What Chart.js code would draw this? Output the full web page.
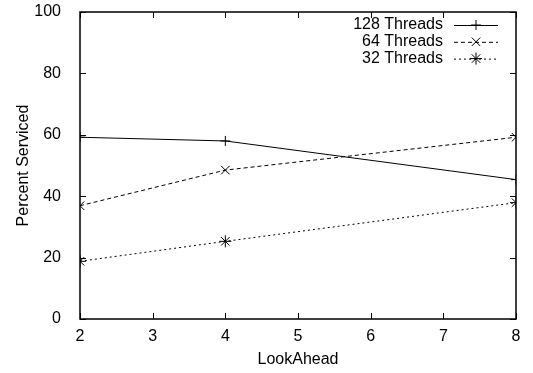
<!DOCTYPE html>
<html>
<head>
<meta charset="utf-8">
<script src="https://cdn.jsdelivr.net/npm/chart.js@4/dist/chart.umd.min.js"></script>
<style>
  html, body { margin: 0; padding: 0; background: #fff; }
  #wrap { width: 533px; height: 373px; }
</style>
</head>
<body>
<div id="wrap"><canvas id="myChart" width="533" height="373"></canvas></div>
<script>
const lookAhead = [2, 4, 8];
const threads128 = [59.2, 58, 45.4];
const threads64 = [36.9, 48.5, 59.2];
const threads32 = [18.8, 25.3, 37.9];
const seriesLabels = ['128 Threads', '64 Threads', '32 Threads'];
const xTicks = [2, 3, 4, 5, 6, 7, 8];
const yTicks = [0, 20, 40, 60, 80, 100];

const FONT = 'Liberation Sans, Arial, sans-serif';
const FS = 16;

function pts(ys) {
    return lookAhead.map((x, i) => ({x: x, y: ys[i]}));
}

// gnuplot-like frame: box around the plot with inward ticks on all sides
const frame = {
    id: 'frame',
    afterDraw(chart) {
        const ctx = chart.ctx;
        const a = chart.chartArea;
        const xs = chart.scales.x, ys = chart.scales.y;
        ctx.save();
        ctx.strokeStyle = '#000';
        ctx.lineWidth = 1.5;
        ctx.strokeRect(a.left, a.top, a.right - a.left, a.bottom - a.top);
        ctx.lineWidth = 1;
        ctx.beginPath();
        xTicks.forEach(v => {
            const px = Math.round(xs.getPixelForValue(v)) + 0.5;
            ctx.moveTo(px, a.bottom); ctx.lineTo(px, a.bottom - 6);
            ctx.moveTo(px, a.top); ctx.lineTo(px, a.top + 6);
        });
        yTicks.forEach(v => {
            const py = Math.round(ys.getPixelForValue(v)) + 0.5;
            ctx.moveTo(a.left, py); ctx.lineTo(a.left + 6, py);
            ctx.moveTo(a.right, py); ctx.lineTo(a.right - 6, py);
        });
        ctx.stroke();

        // key in the top right corner
        ctx.font = FS + 'px ' + FONT;
        ctx.textAlign = 'right';
        ctx.textBaseline = 'middle';
        chart.data.datasets.forEach((ds, i) => {
            const y = a.top + 13 + i * 16.8;
            ctx.fillStyle = '#000';
            ctx.fillText(ds.label, a.right - 73, y);
            const x0 = a.right - 62, x1 = a.right - 18;
            ctx.strokeStyle = '#000';
            ctx.lineWidth = 1;
            ctx.setLineDash(ds.borderDash || []);
            ctx.beginPath();
            ctx.moveTo(x0, y + 0.5); ctx.lineTo(x1, y + 0.5);
            ctx.stroke();
            ctx.setLineDash([]);
            Chart.helpers.drawPoint(ctx, {
                pointStyle: ds.pointStyle, radius: ds.pointRadius, borderWidth: 1
            }, (x0 + x1) / 2, y);
        });
        ctx.restore();
    }
};

const ctx = document.getElementById('myChart').getContext('2d');
const myChart = new Chart(ctx, {
    type: 'line',
    data: {
        datasets: [{
            label: seriesLabels[0],
            data: pts(threads128),
            borderColor: '#000',
            pointStyle: 'cross',
            pointRadius: 5
        }, {
            label: seriesLabels[1],
            data: pts(threads64),
            borderColor: '#000',
            borderDash: [4, 3],
            pointStyle: 'crossRot',
            pointRadius: 6
        }, {
            label: seriesLabels[2],
            data: pts(threads32),
            borderColor: '#000',
            borderDash: [2, 3],
            pointStyle: 'star',
            pointRadius: 6
        }]
    },
    options: {
        responsive: false,
        animation: false,
        elements: {
            line: {borderWidth: 1, tension: 0},
            point: {borderWidth: 1, borderColor: '#000', backgroundColor: '#000'}
        },
        layout: {padding: {top: 12, right: 17, left: 0, bottom: 0}},
        scales: {
            x: {
                type: 'linear',
                min: 2,
                max: 8,
                afterBuildTicks: s => { s.ticks = xTicks.map(v => ({value: v})); },
                afterFit: s => { s.height = 54; s.paddingLeft = 0; s.paddingRight = 0; },
                grid: {display: false},
                border: {display: false},
                ticks: {color: '#000', font: {size: FS, family: FONT}, padding: 0, maxRotation: 0},
                title: {display: true, text: 'LookAhead', color: '#000',
                        font: {size: FS, family: FONT}, padding: {top: 4}}
            },
            y: {
                min: 0,
                max: 100,
                afterBuildTicks: s => { s.ticks = yTicks.map(v => ({value: v})); },
                afterFit: s => { s.width = 80; s.paddingTop = 0; s.paddingBottom = 0; },
                grid: {display: false},
                border: {display: false},
                ticks: {color: '#000', font: {size: FS, family: FONT}, padding: 11},
                title: {display: true, text: 'Percent Serviced', color: '#000',
                        font: {size: FS, family: FONT}, padding: {top: 14, bottom: 4}}
            }
        },
        plugins: {
            legend: {display: false},
            tooltip: {enabled: false}
        }
    },
    plugins: [frame]
});
</script>
</body>
</html>
